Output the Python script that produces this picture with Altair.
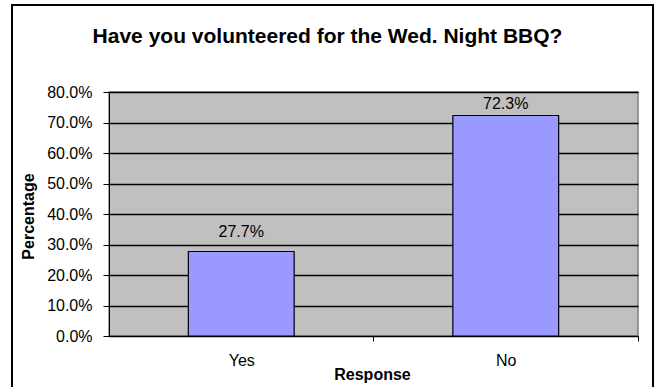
import altair as alt
import pandas as pd

responses = ["Yes", "No"]
percentages = [0.277, 0.723]
label_texts = ["27.7%", "72.3%"]
y_ticks = [0.0, 0.1, 0.2, 0.3, 0.4, 0.5, 0.6, 0.7, 0.8]

df = pd.DataFrame({"Response": responses, "Percentage": percentages, "Label": label_texts})

FONT = "Liberation Sans"
FS = 16

base = alt.Chart(df)

x_enc = alt.X(
    "Response:N",
    sort=responses,
    scale=alt.Scale(paddingInner=0.6, paddingOuter=0.3),
    axis=alt.Axis(
        title="Response",
        labelAngle=0,
        labelFontSize=FS,
        labelFont=FONT,
        labelColor="black",
        labelPadding=11,
        tickOffset=132,
        labelOffset=-132,
        tickSize=5,
        tickColor="black",
        domainColor="black",
        titleFont=FONT,
        titleFontSize=FS,
        titleFontWeight="bold",
        titleColor="black",
        titleX=263,
        titleY=43,
        titleBaseline="alphabetic",
        titleAlign="center",
        grid=False,
    ),
)

y_enc = alt.Y(
    "Percentage:Q",
    scale=alt.Scale(domain=[0, 0.8], nice=False),
    axis=alt.Axis(
        title="Percentage",
        values=y_ticks,
        format=".1%",
        labelOverlap=False,
        labelFontSize=FS,
        labelFont=FONT,
        labelColor="black",
        labelPadding=11,
        tickSize=6,
        tickColor="black",
        domainColor="black",
        grid=True,
        gridColor="black",
        gridWidth=1.5,
        gridOpacity=1,
        titleFont=FONT,
        titleFontSize=FS,
        titleFontWeight="bold",
        titleColor="black",
        titleX=-81,
        titleY=124,
        titleAngle=270,
        titleBaseline="middle",
        titleAlign="center",
    ),
)

bars = base.mark_bar(color="#9999FF", stroke="black", strokeWidth=1.2).encode(x=x_enc, y=y_enc)

label_enc = dict(x=x_enc, y=y_enc, text="Label:N")
labels_yes = base.transform_filter(alt.datum.Response == "Yes").mark_text(
    baseline="alphabetic", font=FONT, fontSize=FS, color="black", dy=-15
).encode(**label_enc)
labels_no = base.transform_filter(alt.datum.Response == "No").mark_text(
    baseline="alphabetic", font=FONT, fontSize=FS, color="black", dy=-6
).encode(**label_enc)

frame = alt.Chart(pd.DataFrame({"a": [0]})).mark_rect(
    fill=None, stroke="black", strokeWidth=2
).encode(
    x=alt.value(-97), x2=alt.value(544), y=alt.value(-87), y2=alt.value(400)
)

chart = alt.layer(bars, labels_yes, labels_no, frame).properties(
    width=529,
    height=244,
    background="white",
    autosize=alt.AutoSizeParams(type="none"),
    padding={"left": 109, "top": 92, "right": 16, "bottom": 51},
    title=alt.TitleParams(
        "Have you volunteered for the Wed. Night BBQ?",
        font=FONT,
        fontSize=21,
        fontWeight="bold",
        color="black",
        anchor="middle",
        dx=-46,
        offset=0,
        dy=43,
    ),
).configure_view(
    fill="#C0C0C0", stroke="#808080", strokeWidth=1.5
)

chart.save("out.html", embed_options={"renderer": "svg", "actions": False})
